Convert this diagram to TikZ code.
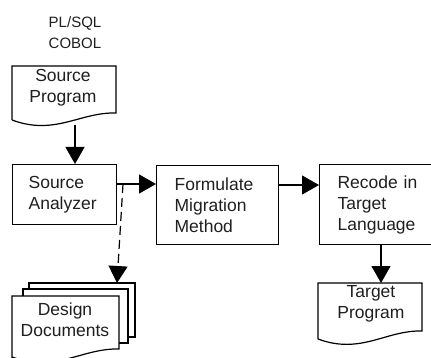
\documentclass[tikz,border=0pt]{standalone}
\usepackage{fontspec}
\setmainfont{Liberation Sans}
\usetikzlibrary{arrows.meta}
\begin{document}
\begin{tikzpicture}[x=1pt, y=-1pt, line width=1.2pt,
  txt/.style={font=\fontsize{17.5}{21}\selectfont, text=black!88, inner sep=0pt},
  procbox/.style={draw, rectangle, anchor=north west, inner ysep=0pt,
    align=left, txt},
  sheet/.style={draw, fill=white},
  flow/.style={-{Triangle[length=17pt,width=19pt]}},
  dataflow/.style={flow, dash pattern=on 9pt off 5pt}]
\useasboundingbox (0,0) rectangle (431,358);

% language labels
\node[txt, font=\fontsize{15}{21}\selectfont, align=center] (langs) at (75,32.5) {PL/SQL\\COBOL};

% source program (document shape)
\draw[sheet] (12,120) -- (12,66) -- (116,66) -- (116,113)
  .. controls (80,112) and (55,136) .. (12,120);
\node[txt, align=center] (srcprog) at (63,88) {Source\\Program};
\coordinate (sp-out) at (75,125);

% process boxes
\node[procbox, minimum width=104pt, minimum height=60pt, inner xsep=16pt, text width=72pt]
  (analyzer) at (12,164) {Source\\Analyzer};
\node[procbox, minimum width=122pt, minimum height=79pt, inner xsep=18pt, text width=86pt]
  (formulate) at (156,165) {Formulate\\Migration\\Method};
\node[procbox, minimum width=121pt, minimum height=80pt, inner xsep=18pt, text width=85pt]
  (recode) at (319,164) {Recode in\\Target\\Language};

% target program (document shape)
\draw[sheet] (318,339) -- (318,283) -- (422,283) -- (422,331)
  .. controls (386,330) and (361,355) .. (318,339);
\node[txt, align=center] (tgtprog) at (371,304) {Target\\Program};
\coordinate (tp-in) at (381,283);

% design documents (stacked sheets)
\draw[sheet] (29,283) rectangle (135,337);
\draw[sheet] (23,289) rectangle (128,343);
\draw[sheet] (12,362) -- (12,296) -- (119,296) -- (119,349)
  .. controls (82,348) and (56,373) .. (12,357);
\node[txt, align=center] (designdocs) at (65,320) {Design\\Documents};
\coordinate (dd-in) at (117,283);

% connectors
\coordinate (split) at (123,184);
\coordinate (fr-mid) at (300,185);
\draw[flow] (sp-out) -- (sp-out |- analyzer.north);
\draw[flow] (analyzer.east |- split) -- (formulate.west |- split);
\draw[dataflow] (split) -- (dd-in);
\draw[flow] (formulate.east |- fr-mid) -- (recode.west |- fr-mid);
\draw[flow] (recode.south -| tp-in) -- (tp-in);
\end{tikzpicture}
\end{document}
